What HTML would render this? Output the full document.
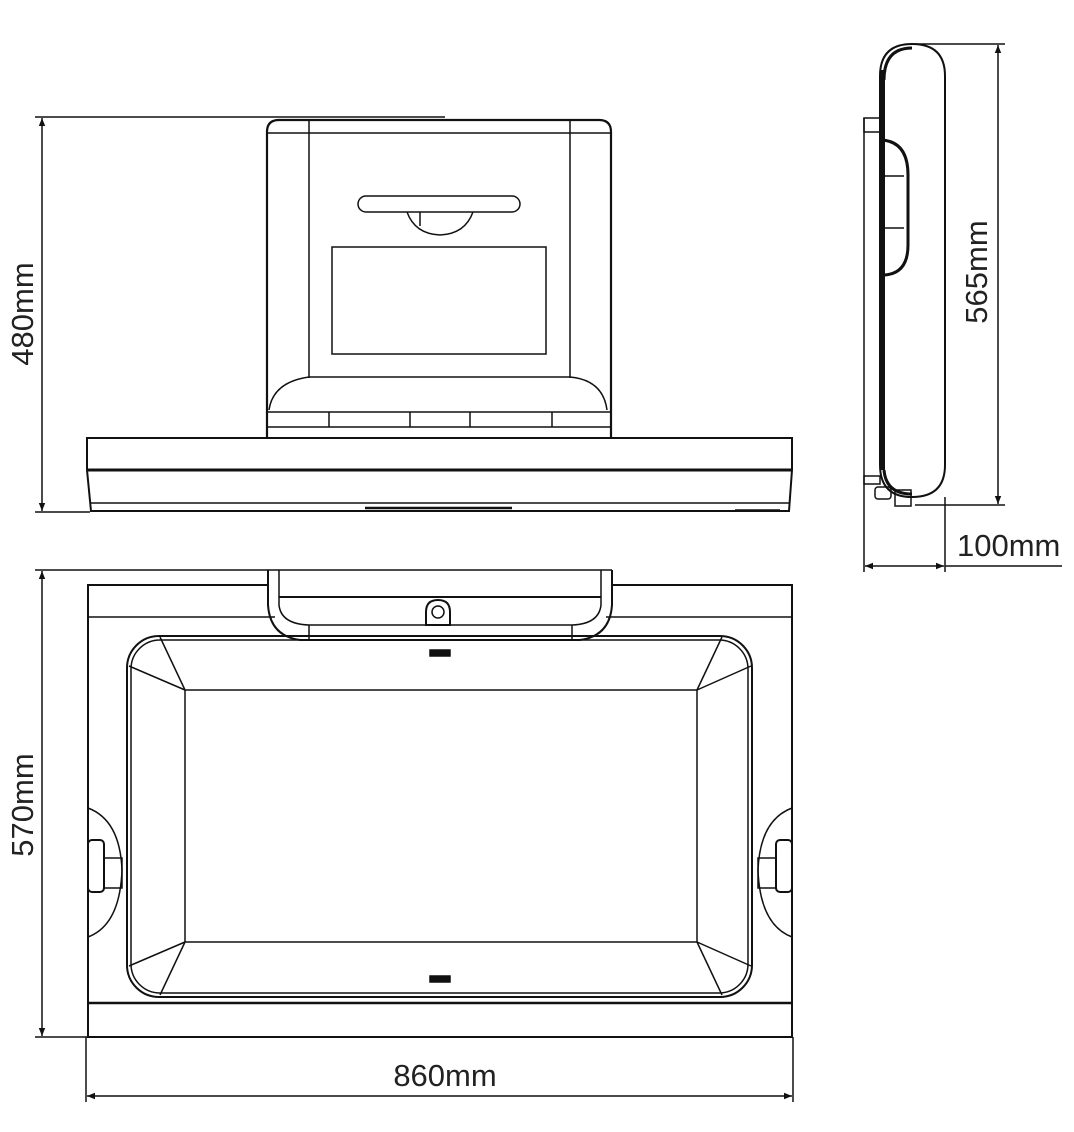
<!DOCTYPE html>
<html><head><meta charset="utf-8"><style>
html,body{margin:0;padding:0;background:#fff;}
svg{display:block}
text{font-family:"Liberation Sans",sans-serif;font-weight:normal;fill:#222;stroke:none;font-size:31px;}
</style></head><body>
<svg width="1074" height="1132" viewBox="0 0 1074 1132" xmlns="http://www.w3.org/2000/svg" fill="none" stroke="#111" stroke-width="1.5">
<defs>
<marker id="a" viewBox="0 0 10 10" refX="10" refY="5" markerWidth="12" markerHeight="8" orient="auto-start-reverse" markerUnits="userSpaceOnUse"><path d="M0,1 L10,5 L0,9 z" fill="#111" stroke="none"/></marker>
</defs>
<!-- FRONT VIEW -->
<line x1="35" y1="117" x2="445" y2="117"/>
<line x1="35" y1="512" x2="90" y2="512"/>
<line x1="42" y1="118" x2="42" y2="511" marker-start="url(#a)" marker-end="url(#a)"/>
<text transform="translate(33,314) rotate(-90)" text-anchor="middle">480mm</text>
<path d="M267,437 V132 Q267,120 279,120 H599 Q611,120 611,132 V437" stroke-width="2.2"/>
<line x1="268" y1="133" x2="610" y2="133"/>
<line x1="309" y1="121" x2="309" y2="378"/>
<line x1="570" y1="121" x2="570" y2="378"/>
<path d="M309,377 H570 Q603,380 607,410"/>
<path d="M309,377 Q273,382 269,410"/>
<rect x="358" y="196" width="162" height="16" rx="8"/>
<path d="M407,212 Q415,234 440,235 Q465,234 473,212"/>
<line x1="420" y1="212" x2="420" y2="226"/>
<rect x="332" y="247" width="214" height="107"/>
<line x1="268" y1="412" x2="610" y2="412"/>
<line x1="329" y1="412" x2="329" y2="427"/>
<line x1="410" y1="412" x2="410" y2="427"/>
<line x1="470" y1="412" x2="470" y2="427"/>
<line x1="552" y1="412" x2="552" y2="427"/>
<line x1="268" y1="427" x2="610" y2="427"/>
<path d="M87,438 H792 V470 L789,511 H91 L87,470 Z" stroke-width="2"/>
<line x1="87" y1="470" x2="792" y2="470" stroke-width="3"/>
<line x1="90" y1="503" x2="790" y2="503"/>
<line x1="365" y1="508" x2="512" y2="508" stroke-width="2.5"/>
<line x1="735" y1="510" x2="780" y2="510"/>
<!-- SIDE VIEW -->
<path d="M880,76 Q880,44 912,44 Q945,44 945,76 V465 Q945,497 912,497 Q880,497 880,465 Z" stroke-width="2"/>
<path d="M884,80 Q884,48 912,48" stroke-width="3"/>
<line x1="883" y1="70" x2="883" y2="470" stroke-width="4"/>
<path d="M884,470 Q886,494 912,494" stroke-width="3"/>
<path d="M882,140 Q908,142 908,175 V245 Q908,275 882,275" stroke-width="3"/>
<line x1="883" y1="176" x2="904" y2="176"/>
<line x1="883" y1="228" x2="904" y2="228"/>
<line x1="864" y1="118" x2="864" y2="572"/>
<rect x="864" y="118" width="16" height="14"/>
<rect x="864" y="476" width="16" height="8"/>
<rect x="875" y="487" width="16" height="12" rx="3"/>
<rect x="895" y="490" width="16" height="16"/>
<line x1="915" y1="44" x2="1005" y2="44"/>
<line x1="915" y1="505" x2="1005" y2="505"/>
<line x1="998" y1="45" x2="998" y2="504" marker-start="url(#a)" marker-end="url(#a)"/>
<text transform="translate(987,272) rotate(-90)" text-anchor="middle">565mm</text>
<line x1="945" y1="497" x2="945" y2="572"/>
<line x1="865" y1="566" x2="944" y2="566" marker-start="url(#a)" marker-end="url(#a)"/>
<line x1="945" y1="566" x2="1062" y2="566"/>
<text x="957" y="556">100mm</text>
<!-- TOP VIEW -->
<line x1="35" y1="570" x2="612" y2="570"/>
<line x1="35" y1="1037" x2="90" y2="1037"/>
<line x1="42" y1="571" x2="42" y2="1036" marker-start="url(#a)" marker-end="url(#a)"/>
<text transform="translate(33,805) rotate(-90)" text-anchor="middle">570mm</text>
<path d="M268,585 H88 V1037 H792 V585 H612" stroke-width="2"/>
<line x1="88" y1="617" x2="275" y2="617"/>
<line x1="606" y1="617" x2="792" y2="617"/>
<path d="M268,570 V605 Q270,636 300,640 H580 Q610,636 612,605 V570" stroke-width="2"/>
<path d="M279,570 V605 Q281,624 309,625"/>
<path d="M601,570 V605 Q599,624 572,625"/>
<line x1="309" y1="625" x2="572" y2="625"/>
<line x1="279" y1="597" x2="601" y2="597" stroke-width="2"/>
<line x1="309" y1="625" x2="309" y2="640"/>
<line x1="572" y1="625" x2="572" y2="640"/>
<path d="M426,625 V612 Q426,600 438,600 Q450,600 450,612 V625 Z" stroke-width="2"/>
<circle cx="438" cy="612" r="6"/>
<rect x="127" y="636" width="625" height="361" rx="32" stroke-width="2"/>
<rect x="131" y="640" width="617" height="353" rx="29"/>
<rect x="185" y="690" width="512" height="252"/>
<line x1="160" y1="637" x2="185" y2="690"/>
<line x1="129" y1="666" x2="185" y2="690"/>
<line x1="722" y1="637" x2="697" y2="690"/>
<line x1="751" y1="666" x2="697" y2="690"/>
<line x1="160" y1="995" x2="185" y2="942"/>
<line x1="129" y1="966" x2="185" y2="942"/>
<line x1="722" y1="995" x2="697" y2="942"/>
<line x1="751" y1="966" x2="697" y2="942"/>
<line x1="88" y1="1003" x2="792" y2="1003" stroke-width="2.5"/>
<rect x="430" y="650" width="20" height="6" fill="#111"/>
<rect x="430" y="976" width="20" height="6" fill="#111"/>
<path d="M88,808 Q120,820 122,870 Q120,925 88,937"/>
<rect x="88" y="840" width="16" height="52" rx="4" stroke-width="2"/>
<rect x="104" y="858" width="18" height="30"/>
<path d="M792,808 Q760,820 758,870 Q760,925 792,937"/>
<rect x="776" y="840" width="16" height="52" rx="4" stroke-width="2"/>
<rect x="758" y="858" width="18" height="30"/>
<line x1="86" y1="1037" x2="86" y2="1102"/>
<line x1="793" y1="1037" x2="793" y2="1102"/>
<line x1="87" y1="1096" x2="792" y2="1096" marker-start="url(#a)" marker-end="url(#a)"/>
<text x="445" y="1086" text-anchor="middle">860mm</text>
</svg>
</body></html>
